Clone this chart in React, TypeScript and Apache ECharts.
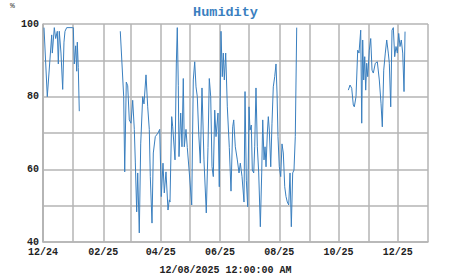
import React, { useEffect, useRef } from "react";
import * as echarts from "echarts";

const seg1Dates = [
  "2024-12-02 01:00", "2024-12-05 10:00", "2024-12-09 23:00", "2024-12-10 14:00", "2024-12-12 15:00",
  "2024-12-14 01:00", "2024-12-15 17:00", "2024-12-16 18:00", "2024-12-17 18:00", "2024-12-19 12:00",
  "2024-12-21 06:00", "2024-12-22 14:00", "2024-12-23 15:00", "2024-12-25 09:00", "2024-12-31 03:00",
  "2025-01-01 04:00", "2025-01-02 05:00", "2025-01-03 15:00", "2025-01-04 16:00", "2025-01-05 07:00",
  "2025-01-06 07:00", "2025-01-07 08:00",
];
const seg1Values = [99, 80, 97, 92, 99, 96, 98, 89, 98, 92, 82, 95, 98, 99, 99, 99, 89, 94, 87, 95, 88, 76];

const seg2Dates = [
  "2025-02-18 12:00", "2025-02-22 00:00", "2025-02-23 01:00", "2025-02-24 16:00", "2025-02-26 03:00",
  "2025-02-27 18:00", "2025-03-01 12:00", "2025-03-03 06:00", "2025-03-04 22:00", "2025-03-05 23:00",
  "2025-03-07 09:00", "2025-03-08 10:00", "2025-03-10 01:00", "2025-03-11 12:00", "2025-03-13 13:00",
  "2025-03-14 21:00", "2025-03-16 23:00", "2025-03-18 17:00", "2025-03-20 08:00", "2025-03-21 09:00",
  "2025-03-23 03:00", "2025-03-24 11:00", "2025-03-26 12:00", "2025-03-29 07:00", "2025-03-31 01:00",
  "2025-04-01 16:00", "2025-04-03 10:00", "2025-04-04 18:00", "2025-04-06 12:00", "2025-04-08 14:00",
  "2025-04-09 22:00", "2025-04-10 15:00", "2025-04-12 09:00", "2025-04-13 10:00", "2025-04-15 19:00",
  "2025-04-17 03:00", "2025-04-18 03:00", "2025-04-19 04:00", "2025-04-19 21:00", "2025-04-21 15:00",
  "2025-04-22 23:00", "2025-04-24 07:00", "2025-04-25 08:00", "2025-04-27 02:00", "2025-04-28 10:00",
  "2025-04-30 12:00", "2025-05-02 23:00", "2025-05-04 14:00", "2025-05-06 01:00", "2025-05-07 09:00",
  "2025-05-08 17:00", "2025-05-10 04:00", "2025-05-11 19:00", "2025-05-13 13:00", "2025-05-15 14:00",
  "2025-05-17 23:00", "2025-05-19 17:00", "2025-05-21 01:00", "2025-05-22 12:00", "2025-05-23 20:00",
  "2025-05-25 04:00", "2025-05-26 15:00", "2025-05-27 23:00", "2025-05-30 00:00", "2025-05-31 08:00",
  "2025-06-02 02:00", "2025-06-03 10:00", "2025-06-04 11:00", "2025-06-05 12:00", "2025-06-06 22:00",
  "2025-06-08 14:00", "2025-06-10 15:00", "2025-06-12 09:00", "2025-06-14 03:00", "2025-06-15 04:00",
  "2025-06-16 19:00", "2025-06-18 21:00", "2025-06-20 15:00", "2025-06-21 23:00", "2025-06-23 17:00",
  "2025-06-25 18:00", "2025-06-26 19:00", "2025-06-28 03:00", "2025-06-29 13:00", "2025-06-30 22:00",
  "2025-07-01 22:00", "2025-07-03 06:00", "2025-07-04 07:00", "2025-07-05 18:00", "2025-07-06 18:00",
  "2025-07-08 02:00", "2025-07-09 11:00", "2025-07-10 21:00", "2025-07-12 13:00", "2025-07-13 23:00",
  "2025-07-15 00:00", "2025-07-16 08:00", "2025-07-17 09:00", "2025-07-18 10:00", "2025-07-19 18:00",
  "2025-07-20 18:00", "2025-07-21 19:00", "2025-07-23 06:00", "2025-07-24 13:00", "2025-07-25 21:00",
  "2025-07-27 08:00", "2025-07-28 16:00", "2025-07-29 17:00", "2025-07-30 17:00", "2025-08-01 01:00",
  "2025-08-02 12:00", "2025-08-03 20:00", "2025-08-05 04:00", "2025-08-06 15:00", "2025-08-07 23:00",
  "2025-08-09 07:00", "2025-08-10 18:00", "2025-08-12 02:00", "2025-08-13 10:00", "2025-08-14 20:00",
  "2025-08-16 04:00", "2025-08-17 12:00", "2025-08-18 23:00",
];
const seg2Values = [
  98, 80, 59.3, 84, 83, 73.6, 72.7, 79, 71, 62,
  48.3, 59, 42.5, 67, 80, 78, 86, 77.2, 71, 58,
  45.2, 64.5, 69, 70, 71, 52.5, 61.7, 53.5, 59.3, 48.8,
  51.6, 51, 74.5, 71.7, 62.6, 89, 99, 83, 63.5, 75.5,
  66.2, 85, 66.2, 71, 66, 59, 50.2, 84.6, 89.6, 82.7,
  80, 70, 61.7, 82.4, 62.6, 48, 66, 85, 80, 60.7,
  58, 76.3, 69, 75.5, 55.2, 98, 85.5, 92, 84.6, 92,
  77.2, 66, 54, 71.7, 73.6, 66.2, 62.6, 59, 61.7, 58,
  51, 81.4, 57, 49.7, 77.2, 70.8, 72.2, 59.8, 59, 66.2,
  82.4, 66.2, 59, 44.2, 59, 73.6, 62.6, 66.2, 60.7, 70,
  74.5, 70.8, 60.7, 72.7, 82.7, 85.5, 89, 81, 69, 60.7,
  58, 67, 64.5, 55.2, 52.5, 51, 50.2, 59, 44.2, 59,
  59.8, 69, 99,
];

const seg3Dates = [
  "2025-10-11 01:00", "2025-10-12 19:00", "2025-10-14 13:00", "2025-10-16 04:00", "2025-10-17 05:00",
  "2025-10-18 23:00", "2025-10-20 17:00", "2025-10-22 01:00", "2025-10-23 19:00", "2025-10-24 20:00",
  "2025-10-25 20:00", "2025-10-26 21:00", "2025-10-27 22:00", "2025-10-28 22:00", "2025-10-29 23:00",
  "2025-10-31 00:00", "2025-11-01 15:00", "2025-11-03 02:00", "2025-11-04 10:00", "2025-11-05 18:00",
  "2025-11-07 19:00", "2025-11-09 21:00", "2025-11-11 22:00", "2025-11-13 16:00", "2025-11-15 00:00",
  "2025-11-16 11:00", "2025-11-18 02:00", "2025-11-19 13:00", "2025-11-21 04:00", "2025-11-22 05:00",
  "2025-11-23 16:00", "2025-11-25 00:00", "2025-11-26 08:00", "2025-11-27 18:00", "2025-11-29 02:00",
  "2025-11-30 11:00", "2025-12-01 21:00", "2025-12-03 05:00", "2025-12-04 13:00", "2025-12-06 00:00",
  "2025-12-07 08:00", "2025-12-08 09:00",
];
const seg3Values = [
  81.8, 83.2, 82.3, 77.7, 77.2, 80, 92.8, 92, 98.3, 72.7,
  95.6, 84.6, 91, 81.8, 89.2, 85.5, 92.8, 96, 87.3, 86.5,
  89.2, 89.6, 84.6, 78.2, 71.7, 87.3, 92, 95.6, 92, 89.2,
  77.2, 98.3, 99, 91, 93.8, 92, 97.4, 93.8, 95.6, 92,
  81.4, 97.9,
];

const yTickLabels = [40, 60, 80, 100];
const titleText = "Humidity";
const unitText = "%";
const footerText = "12/08/2025 12:00:00 AM";

const LINE_COLOR = "#3a7fbf";
const GRID_COLOR = "#b5b5b5";
const MONO = "'Liberation Mono', 'Courier New', monospace";
const DAY = 86400000;

function zip(d: string[], v: number[]) {
  return d.map((t, i) => [t, v[i]]);
}

export default function App() {
  const ref = useRef<HTMLDivElement>(null);
  useEffect(() => {
    if (!ref.current) return;
    const chart = echarts.init(ref.current, null, { renderer: "svg" });
    const seriesBase = {
      type: "line" as const,
      showSymbol: false,
      symbol: "none",
      lineStyle: { color: LINE_COLOR, width: 1 },
      itemStyle: { color: LINE_COLOR },
      emphasis: { disabled: true },
    };
    chart.setOption({
      animation: false,
      backgroundColor: "#ffffff",
      title: {
        text: titleText,
        left: "center",
        top: 0,
        textStyle: { fontFamily: MONO, fontWeight: "bold", fontSize: 13.5, color: LINE_COLOR },
      },
      grid: { left: 43, right: 23, top: 24, bottom: 33 },
      xAxis: {
        type: "time",
        min: "2024-12-01 00:00",
        max: "2026-01-01 00:00",
        splitNumber: 13,
        minInterval: 28 * DAY,
        maxInterval: 31 * DAY,
        axisLine: { show: true, lineStyle: { color: GRID_COLOR, width: 1.5 } },
        axisTick: { show: false },
        splitLine: { show: true, lineStyle: { color: GRID_COLOR, width: 1.5 } },
        axisLabel: {
          showMinLabel: true,
          showMaxLabel: true,
          hideOverlap: false,
          margin: 5,
          lineHeight: 10,
          fontFamily: MONO,
          fontWeight: "bold",
          fontSize: 10,
          color: "#222",
          formatter: (val: number) => {
            const d = new Date(val);
            const m = d.getMonth() + 1;
            if (m % 2 !== 0) return "";
            const yy = String(d.getFullYear() % 100).padStart(2, "0");
            return String(m).padStart(2, "0") + "/" + yy;
          },
        },
      },
      yAxis: {
        type: "value",
        min: 40,
        max: 100,
        interval: 10,
        axisLine: { show: true, lineStyle: { color: GRID_COLOR, width: 1.5 } },
        axisTick: { show: false },
        splitLine: { show: true, lineStyle: { color: GRID_COLOR, width: 1.5 } },
        axisLabel: {
          margin: 4,
          lineHeight: 10,
          fontFamily: MONO,
          fontWeight: "bold",
          fontSize: 10,
          color: "#222",
          formatter: (v: number) => (yTickLabels.includes(v) ? String(v) : ""),
        },
      },
      graphic: [
        {
          type: "text",
          left: 10,
          top: 1,
          style: { text: unitText, fontFamily: MONO, fontSize: 8, fill: "#333" },
        },
        {
          type: "text",
          x: 225.5,
          y: 270,
          style: {
            text: footerText,
            fontFamily: MONO,
            fontWeight: "bold",
            fontSize: 10,
            fill: "#222",
            textAlign: "center",
            textVerticalAlign: "middle",
          },
        },
      ],
      series: [
        { ...seriesBase, name: "s1", data: zip(seg1Dates, seg1Values) },
        { ...seriesBase, name: "s2", data: zip(seg2Dates, seg2Values) },
        { ...seriesBase, name: "s3", data: zip(seg3Dates, seg3Values) },
      ],
    });
    return () => chart.dispose();
  }, []);
  return (
    <div
      ref={ref}
      style={{ position: "absolute", left: 0, top: 0, width: 451, height: 275 }}
    />
  );
}
